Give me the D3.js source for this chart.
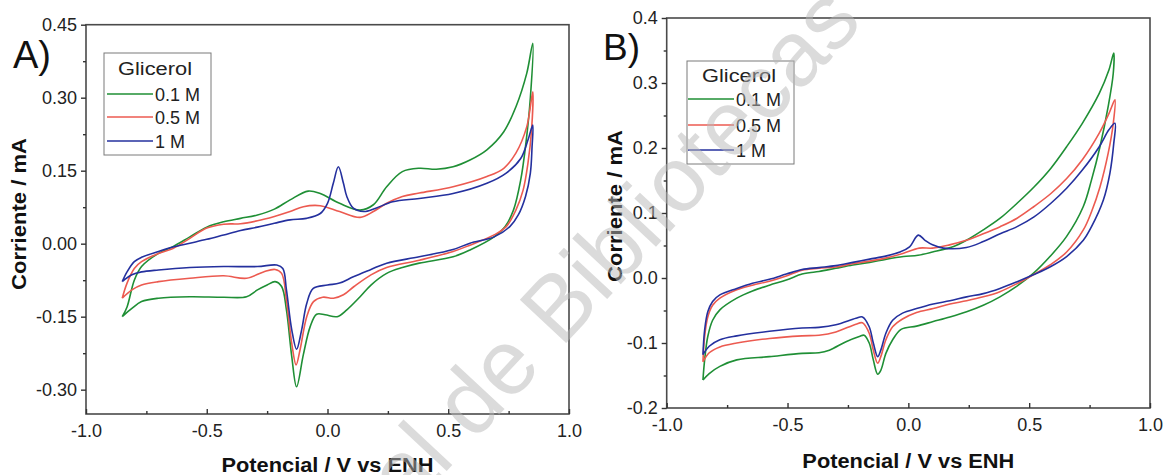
<!DOCTYPE html>
<html lang="es">
<head>
  <meta charset="UTF-8">
  <title>Voltametría cíclica - glicerol</title>
  <script src="https://d3js.org/d3.v7.min.js"></script>
  <style>
    body, html { margin: 0; padding: 0; background: #fff; overflow: hidden; }
    text { font-family: Arial, "Liberation Sans", sans-serif; }
  </style>
</head>
<body>
<script>
  // ---- data (potential V vs ENH, current mA) ----
  const concentrations = ["0.1 M", "0.5 M", "1 M"];
  const legendTitle = "Glicerol";
  const xTicks = [-1.0, -0.5, 0.0, 0.5, 1.0];
  const xMinor = [-0.75, -0.25, 0.25, 0.75];
  const aYTicks = [-0.30, -0.15, 0.00, 0.15, 0.30, 0.45];
  const aYMinor = [-0.225, -0.075, 0.075, 0.225, 0.375];
  const bYTicks = [-0.2, -0.1, 0.0, 0.1, 0.2, 0.3, 0.4];
  const bYMinor = [-0.15, -0.05, 0.05, 0.15, 0.25, 0.35];

  // panel A, 0.1 M (scan forward then back)
  const a01 = [[-0.85,-0.150],[-0.83,-0.13],[-0.80,-0.075],[-0.77,-0.047],[-0.70,-0.020],[-0.64,-0.006],[-0.57,0.014],[-0.50,0.034],[-0.43,0.045],[-0.36,0.052],[-0.29,0.059],[-0.22,0.071],[-0.155,0.090],[-0.08,0.108],[-0.03,0.103],[0.05,0.083],[0.135,0.069],[0.19,0.080],[0.245,0.117],[0.31,0.148],[0.38,0.155],[0.45,0.153],[0.52,0.158],[0.59,0.172],[0.66,0.193],[0.73,0.230],[0.78,0.281],[0.825,0.35],[0.85,0.412],
    [0.84,0.30],[0.82,0.20],[0.80,0.131],[0.77,0.069],[0.735,0.035],[0.69,0.014],[0.59,-0.013],[0.52,-0.027],[0.38,-0.040],[0.31,-0.049],[0.245,-0.061],[0.18,-0.085],[0.135,-0.109],[0.08,-0.136],[0.04,-0.150],[-0.01,-0.146],[-0.045,-0.145],[-0.072,-0.171],[-0.10,-0.228],[-0.128,-0.294],[-0.148,-0.232],[-0.17,-0.136],[-0.19,-0.088],[-0.217,-0.078],[-0.25,-0.085],[-0.29,-0.095],[-0.335,-0.109],[-0.43,-0.110],[-0.57,-0.109],[-0.70,-0.112],[-0.77,-0.119],[-0.81,-0.133],[-0.85,-0.150]];
  const a05 = [[-0.85,-0.112],[-0.83,-0.081],[-0.80,-0.051],[-0.77,-0.037],[-0.70,-0.020],[-0.64,-0.010],[-0.57,0.011],[-0.50,0.032],[-0.43,0.040],[-0.36,0.041],[-0.29,0.047],[-0.22,0.056],[-0.155,0.066],[-0.10,0.076],[-0.03,0.078],[0.05,0.066],[0.135,0.054],[0.19,0.066],[0.245,0.083],[0.31,0.097],[0.38,0.104],[0.52,0.117],[0.66,0.138],[0.73,0.155],[0.78,0.186],[0.825,0.240],[0.85,0.312],
    [0.845,0.234],[0.83,0.165],[0.81,0.110],[0.78,0.069],[0.74,0.035],[0.69,0.018],[0.59,-0.003],[0.52,-0.016],[0.38,-0.034],[0.245,-0.049],[0.18,-0.064],[0.11,-0.088],[0.066,-0.105],[0.025,-0.112],[-0.02,-0.110],[-0.058,-0.119],[-0.086,-0.15],[-0.114,-0.219],[-0.13,-0.249],[-0.148,-0.205],[-0.17,-0.116],[-0.19,-0.061],[-0.217,-0.053],[-0.265,-0.058],[-0.335,-0.071],[-0.43,-0.066],[-0.57,-0.071],[-0.70,-0.078],[-0.77,-0.085],[-0.81,-0.095],[-0.85,-0.112]];
  const a1 = [[-0.85,-0.078],[-0.83,-0.058],[-0.80,-0.037],[-0.77,-0.028],[-0.70,-0.016],[-0.64,-0.007],[-0.57,0.001],[-0.50,0.009],[-0.43,0.018],[-0.36,0.027],[-0.29,0.034],[-0.22,0.042],[-0.155,0.049],[-0.087,0.052],[-0.03,0.062],[0.0,0.083],[0.024,0.124],[0.045,0.158],[0.066,0.124],[0.08,0.097],[0.107,0.073],[0.15,0.066],[0.20,0.073],[0.27,0.086],[0.38,0.093],[0.52,0.103],[0.66,0.124],[0.74,0.145],[0.80,0.175],[0.83,0.213],[0.85,0.244],
    [0.847,0.199],[0.84,0.145],[0.82,0.097],[0.79,0.059],[0.755,0.035],[0.69,0.014],[0.59,0.001],[0.52,-0.012],[0.38,-0.027],[0.245,-0.040],[0.18,-0.053],[0.107,-0.068],[0.05,-0.081],[0.0,-0.085],[-0.059,-0.092],[-0.086,-0.123],[-0.107,-0.177],[-0.128,-0.217],[-0.148,-0.177],[-0.17,-0.095],[-0.185,-0.051],[-0.21,-0.044],[-0.29,-0.047],[-0.43,-0.047],[-0.57,-0.049],[-0.70,-0.054],[-0.77,-0.058],[-0.81,-0.064],[-0.85,-0.078]];

  // panel B
  const b01 = [[-0.85,-0.157],[-0.843,-0.126],[-0.83,-0.090],[-0.81,-0.065],[-0.78,-0.049],[-0.71,-0.031],[-0.645,-0.020],[-0.575,-0.011],[-0.505,-0.003],[-0.44,0.006],[-0.41,0.008],[-0.37,0.010],[-0.30,0.015],[-0.23,0.020],[-0.16,0.024],[-0.09,0.029],[-0.02,0.033],[0.04,0.035],[0.10,0.040],[0.19,0.049],[0.24,0.058],[0.31,0.074],[0.38,0.092],[0.45,0.115],[0.52,0.140],[0.59,0.169],[0.655,0.202],[0.72,0.238],[0.79,0.284],[0.83,0.320],[0.85,0.346],
    [0.848,0.315],[0.827,0.264],[0.793,0.202],[0.758,0.151],[0.724,0.110],[0.655,0.064],[0.586,0.033],[0.517,0.007],[0.448,-0.013],[0.379,-0.029],[0.31,-0.042],[0.241,-0.052],[0.172,-0.060],[0.103,-0.067],[0.034,-0.074],[-0.03,-0.079],[-0.065,-0.095],[-0.093,-0.116],[-0.114,-0.142],[-0.127,-0.148],[-0.145,-0.126],[-0.162,-0.100],[-0.183,-0.088],[-0.203,-0.090],[-0.258,-0.098],[-0.327,-0.111],[-0.37,-0.115],[-0.44,-0.116],[-0.575,-0.121],[-0.71,-0.126],[-0.78,-0.136],[-0.824,-0.147],[-0.85,-0.157]];
  const b05 = [[-0.85,-0.129],[-0.843,-0.090],[-0.83,-0.060],[-0.81,-0.042],[-0.78,-0.031],[-0.71,-0.018],[-0.645,-0.011],[-0.575,-0.005],[-0.505,0.003],[-0.44,0.012],[-0.37,0.015],[-0.30,0.017],[-0.23,0.022],[-0.16,0.026],[-0.09,0.031],[-0.02,0.038],[0.045,0.046],[0.10,0.046],[0.17,0.051],[0.24,0.058],[0.31,0.068],[0.38,0.079],[0.45,0.092],[0.52,0.110],[0.59,0.130],[0.655,0.153],[0.72,0.182],[0.79,0.223],[0.83,0.253],[0.855,0.274],
    [0.848,0.238],[0.827,0.192],[0.793,0.140],[0.758,0.102],[0.724,0.074],[0.655,0.040],[0.586,0.020],[0.517,0.005],[0.448,-0.009],[0.379,-0.021],[0.31,-0.029],[0.241,-0.035],[0.172,-0.040],[0.103,-0.047],[0.034,-0.053],[-0.024,-0.063],[-0.065,-0.075],[-0.093,-0.095],[-0.114,-0.121],[-0.127,-0.131],[-0.145,-0.111],[-0.162,-0.085],[-0.19,-0.069],[-0.217,-0.071],[-0.30,-0.083],[-0.37,-0.088],[-0.44,-0.089],[-0.575,-0.093],[-0.71,-0.100],[-0.78,-0.106],[-0.824,-0.115],[-0.85,-0.129]];
  const b1 = [[-0.85,-0.118],[-0.843,-0.080],[-0.83,-0.052],[-0.81,-0.036],[-0.78,-0.026],[-0.71,-0.016],[-0.645,-0.008],[-0.575,-0.002],[-0.505,0.006],[-0.44,0.013],[-0.37,0.016],[-0.30,0.019],[-0.23,0.024],[-0.16,0.029],[-0.09,0.034],[-0.035,0.040],[0.005,0.048],[0.041,0.066],[0.069,0.058],[0.10,0.051],[0.145,0.046],[0.24,0.047],[0.31,0.056],[0.38,0.068],[0.45,0.079],[0.52,0.094],[0.59,0.115],[0.655,0.138],[0.72,0.166],[0.79,0.202],[0.83,0.228],[0.855,0.238],
    [0.85,0.207],[0.834,0.161],[0.807,0.120],[0.758,0.079],[0.724,0.058],[0.655,0.033],[0.586,0.017],[0.517,0.005],[0.448,-0.006],[0.379,-0.016],[0.31,-0.024],[0.241,-0.029],[0.172,-0.035],[0.103,-0.040],[0.034,-0.047],[-0.024,-0.054],[-0.065,-0.065],[-0.093,-0.085],[-0.114,-0.111],[-0.127,-0.121],[-0.145,-0.100],[-0.162,-0.075],[-0.19,-0.060],[-0.217,-0.062],[-0.30,-0.072],[-0.37,-0.076],[-0.44,-0.077],[-0.575,-0.082],[-0.71,-0.089],[-0.78,-0.095],[-0.824,-0.105],[-0.85,-0.118]];

  const colors = ["#1f8f35", "#ec5a50", "#24309e"];

  const width = 1166, height = 475;
  const svg = d3.select("body").append("svg")
    .attr("width", width)
    .attr("height", height);

  const panels = [
    { tag: "A)", tagX: 13, tagY: 68, tagSize: 38,
      left: 86, right: 569, top: 24.7, bottom: 414,
      yDomain: [-0.35, 0.45], yTicks: aYTicks, yMinor: aYMinor, digits: 2,
      curves: [a01, a05, a1],
      yTitleX: 26, yTitleY: 214, xTitleY: 472,
      legend: { x0: 104, y0: 53, x1: 211, y1: 155, titleX: 118, titleY: 75, lineX0: 107, lineX1: 153, rows: [94, 117, 141] } },
    { tag: "B)", tagX: 603, tagY: 60, tagSize: 37,
      left: 666.7, right: 1150, top: 18, bottom: 408,
      yDomain: [-0.2, 0.4], yTicks: bYTicks, yMinor: bYMinor, digits: 1,
      curves: [b01, b05, b1],
      yTitleX: 622, yTitleY: 206, xTitleY: 468,
      legend: { x0: 687, y0: 61, x1: 794, y1: 164, titleX: 702, titleY: 82, lineX0: 688, lineX1: 734, rows: [99, 125, 150] } }
  ];

  panels.forEach(drawPanel);

  function drawPanel(p) {
    const x = d3.scaleLinear().domain([-1, 1]).range([p.left, p.right]);
    const y = d3.scaleLinear().domain(p.yDomain).range([p.bottom, p.top]);
    const g = svg.append("g");

    // curves
    const line = d3.line()
      .x(d => x(d[0]))
      .y(d => y(d[1]))
      .curve(d3.curveCatmullRom.alpha(0.5));

    p.curves.forEach((c, i) => {
      g.append("path")
        .datum(c)
        .attr("d", line)
        .attr("fill", "none")
        .attr("stroke", colors[i])
        .attr("stroke-width", 1.6)
        .attr("stroke-linejoin", "round");
    });

    // frame
    g.append("rect")
      .attr("x", p.left).attr("y", p.top)
      .attr("width", p.right - p.left).attr("height", p.bottom - p.top)
      .attr("fill", "none")
      .attr("stroke", "#4a4a4a")
      .attr("stroke-width", 1.6);

    // x axis: ticks point inward
    g.append("g")
      .attr("transform", `translate(0,${p.bottom})`)
      .call(d3.axisBottom(x).tickValues(xTicks).tickSize(-5).tickPadding(10)
        .tickFormat(d => d.toFixed(1)));
    g.append("g")
      .attr("transform", `translate(0,${p.bottom})`)
      .call(d3.axisBottom(x).tickValues(xMinor).tickSize(-3).tickFormat(""));

    // y axis: ticks point outward
    g.append("g")
      .attr("transform", `translate(${p.left},0)`)
      .call(d3.axisLeft(y).tickValues(p.yTicks).tickSize(5).tickPadding(4)
        .tickFormat(d => d.toFixed(p.digits)));
    g.append("g")
      .attr("transform", `translate(${p.left},0)`)
      .call(d3.axisLeft(y).tickValues(p.yMinor).tickSize(3).tickFormat(""));

    g.selectAll(".domain").remove();
    g.selectAll(".tick line").attr("stroke", "#333").attr("stroke-width", 1.4);
    g.selectAll(".tick text")
      .attr("fill", "#222")
      .style("font-size", "18px")
      .style("font-family", "Arial, 'Liberation Sans', sans-serif");

    // axis titles
    g.append("text")
      .attr("x", (p.left + p.right) / 2)
      .attr("y", p.xTitleY)
      .attr("text-anchor", "middle")
      .attr("font-weight", "bold")
      .attr("font-size", 20)
      .attr("textLength", 212)
      .attr("lengthAdjust", "spacingAndGlyphs")
      .attr("fill", "#111")
      .text("Potencial / V vs ENH");

    g.append("text")
      .attr("transform", `translate(${p.yTitleX},${p.yTitleY}) rotate(-90)`)
      .attr("text-anchor", "middle")
      .attr("font-weight", "bold")
      .attr("font-size", 20)
      .attr("textLength", 152)
      .attr("lengthAdjust", "spacingAndGlyphs")
      .attr("fill", "#111")
      .text("Corriente / mA");

    // panel tag
    g.append("text")
      .attr("x", p.tagX).attr("y", p.tagY)
      .attr("font-size", p.tagSize)
      .attr("fill", "#111")
      .text(p.tag);

    // legend
    const L = p.legend;
    g.append("rect")
      .attr("x", L.x0).attr("y", L.y0)
      .attr("width", L.x1 - L.x0).attr("height", L.y1 - L.y0)
      .attr("fill", "#fff")
      .attr("stroke", "#7a7a7a")
      .attr("stroke-width", 1);
    g.append("text")
      .attr("x", L.titleX).attr("y", L.titleY)
      .attr("font-size", 18)
      .attr("textLength", 74)
      .attr("lengthAdjust", "spacingAndGlyphs")
      .attr("fill", "#222")
      .text(legendTitle);
    concentrations.forEach((name, i) => {
      g.append("line")
        .attr("x1", L.lineX0).attr("x2", L.lineX1)
        .attr("y1", L.rows[i]).attr("y2", L.rows[i])
        .attr("stroke", colors[i])
        .attr("stroke-width", 1.6);
      g.append("text")
        .attr("x", L.lineX1 + 2).attr("y", L.rows[i] + 6.5)
        .attr("font-size", 18)
        .attr("fill", "#222")
        .text(name);
    });
  }

  // watermark stamped over the figure
  svg.append("text")
    .attr("transform", "translate(636,268) rotate(-47)")
    .attr("text-anchor", "middle")
    .attr("font-size", 92)
    .attr("fill", "#b8b8b8")
    .attr("fill-opacity", 0.5)
    .text("al de Bibliotecas");
</script>
</body>
</html>
